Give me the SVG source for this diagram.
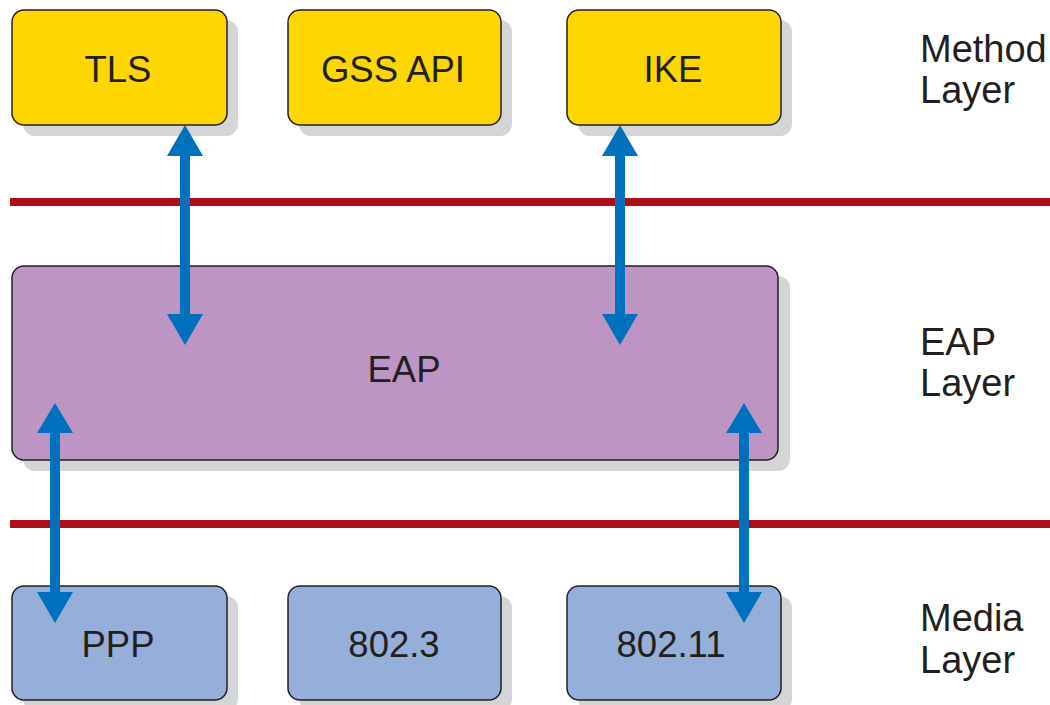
<svg xmlns="http://www.w3.org/2000/svg" width="1050" height="705" viewBox="0 0 1050 705">
<style>
.sh{fill:#D4D5D7}
.bx{stroke:#231F20;stroke-width:1.5}
.m{fill:#FED700}
.e{fill:#BC95C5}
.d{fill:#95AFDA}
.t{font-family:"Liberation Sans",Arial,sans-serif;font-size:36.5px;fill:#231F20}
.l{font-size:38px}
.c{text-anchor:middle}
.sep{stroke:#AE0E18;stroke-width:8}
.ar{fill:#0071BC}
</style>
<rect width="1050" height="705" fill="#fff"/>
<g id="separators">
<line class="sep" x1="10" y1="202" x2="1050" y2="202"/>
<line class="sep" x1="10" y1="524" x2="1050" y2="524"/>
</g>
<g id="tls">
<rect class="sh" x="23" y="20" width="215" height="116" rx="12"/>
<rect class="bx m" x="12" y="10" width="215" height="115" rx="12"/>
<text class="t c" x="118" y="82">TLS</text>
</g>
<g id="gss">
<rect class="sh" x="299" y="20" width="213" height="116" rx="12"/>
<rect class="bx m" x="288" y="10" width="213" height="115" rx="12"/>
<text class="t c" x="393" y="82">GSS API</text>
</g>
<g id="ike">
<rect class="sh" x="578" y="20" width="214" height="116" rx="12"/>
<rect class="bx m" x="567" y="10" width="214" height="115" rx="12"/>
<text class="t c" x="673" y="82">IKE</text>
</g>
<g id="eap">
<rect class="sh" x="23" y="276" width="767" height="195" rx="12"/>
<rect class="bx e" x="12" y="266" width="766" height="194" rx="12"/>
<text class="t c" x="404" y="382">EAP</text>
</g>
<g id="ppp">
<rect class="sh" x="23" y="596" width="215" height="115" rx="12"/>
<rect class="bx d" x="12" y="586" width="215" height="114" rx="12"/>
<text class="t c" x="118" y="657">PPP</text>
</g>
<g id="e8023">
<rect class="sh" x="299" y="596" width="213" height="115" rx="12"/>
<rect class="bx d" x="288" y="586" width="213" height="114" rx="12"/>
<text class="t c" x="394" y="657">802.3</text>
</g>
<g id="e80211">
<rect class="sh" x="578" y="596" width="214" height="115" rx="12"/>
<rect class="bx d" x="567" y="586" width="214" height="114" rx="12"/>
<text class="t c" x="671" y="657">802.11</text>
</g>
<g id="labels">
<text class="t l" x="920" y="62">Method</text>
<text class="t l" x="920" y="103">Layer</text>
<text class="t l" x="920" y="355">EAP</text>
<text class="t l" x="920" y="396">Layer</text>
<text class="t l" x="920" y="631">Media</text>
<text class="t l" x="920" y="673">Layer</text>
</g>
<g id="connectors">
<polygon class="ar" points="185,125 203,156 190,156 190,314 203,314 185,345 167,314 180,314 180,156 167,156"/>
<polygon class="ar" points="620,125 638,156 625,156 625,314 638,314 620,345 602,314 615,314 615,156 602,156"/>
<polygon class="ar" points="55,403 73,433 60,433 60,592 73,592 55,623 37,592 50,592 50,433 37,433"/>
<polygon class="ar" points="744,403 762,433 749,433 749,592 762,592 744,623 726,592 739,592 739,433 726,433"/>
</g>
</svg>
